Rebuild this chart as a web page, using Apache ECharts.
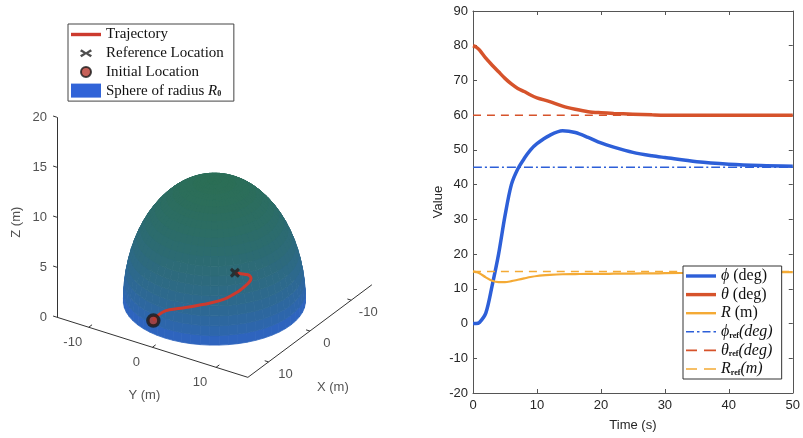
<!DOCTYPE html>
<html>
<head>
<meta charset="utf-8">
<script src="https://cdn.jsdelivr.net/npm/echarts@6/dist/echarts.min.js"></script>
<style>
  html, body { margin: 0; padding: 0; background: #fff; }
  #main { width: 803px; height: 438px; }
</style>
</head>
<body>
<div id="main"></div>
<script>
// time history of the spherical coordinates
var time   = [0, 0.5, 1, 2, 3, 4, 5, 6, 7, 8, 9, 10, 12, 14, 16, 18, 20, 22, 25, 28, 30, 35, 40, 45, 50];
var phi    = [0, 0, 0.3, 3, 11, 20, 31, 40, 44.5, 47.5, 50, 51.8, 54.2, 55.5, 55.0, 53.6, 52.0, 50.8, 49.3, 48.3, 47.8, 46.6, 45.9, 45.5, 45.3];
var theta  = [80, 79.6, 78.8, 76.4, 74.4, 72.5, 70.6, 69, 67.7, 66.8, 65.8, 65, 63.9, 62.6, 61.7, 61, 60.7, 60.5, 60.3, 60.1, 60, 60, 60, 60, 60];
var radius = [15, 14.8, 14.5, 13.3, 12.3, 11.9, 11.9, 12.2, 12.6, 13.0, 13.4, 13.7, 14.0, 14.2, 14.25, 14.3, 14.3, 14.35, 14.4, 14.45, 14.5, 14.6, 14.7, 14.75, 14.8];
var phiRef = 45, thetaRef = 60, radiusRef = 15;
var sphereR0 = 12;

// 3d axes of the left panel
var xLim3 = [-15, 15], yLim3 = [-15, 15], zLim3 = [0, 20];
var xTicks3 = [-10, 0, 10], yTicks3 = [-10, 0, 10], zTicks3 = [0, 5, 10, 15, 20];

// right panel axes
var timeRange = [0, 50], valueRange = [-20, 90];

var colPhi = '#2d5fd8', colTheta = '#d6532b', colR = '#f4aa35';
var sans = 'Liberation Sans', serif = 'Liberation Serif';

// ---- simple orthographic view (az 123, el 29) -> pixel-like units of the left grid
var AZ = 123 * Math.PI / 180, EL = 29 * Math.PI / 180;
var S_XY = 7.59, S_Z = 10, KZ = S_Z / (S_XY * Math.cos(EL));
function proj(x, y, z) {
  var u = S_XY * (Math.cos(AZ) * x + Math.sin(AZ) * y);
  var v = S_XY * Math.sin(EL) * (-Math.sin(AZ) * x + Math.cos(AZ) * y) + S_Z * z;
  return [u, v];
}
function depth(x, y, z) {
  return Math.cos(EL) * (Math.sin(AZ) * x - Math.cos(AZ) * y) + Math.sin(EL) * KZ * z;
}
function sph(p, t, r) {
  var a = p * Math.PI / 180, b = t * Math.PI / 180;
  return [r * Math.sin(b) * Math.cos(a), r * Math.sin(b) * Math.sin(a), r * Math.cos(b)];
}

// hemisphere mesh, coloured by height, painted back to front
var sphereQuads = [];
var nLon = 60, nLat = 20;
var cLow = [46, 98, 216], cHigh = [44, 110, 86];
for (var i = 0; i < nLat; i++) {
  for (var j = 0; j < nLon; j++) {
    var t0 = 90 * i / nLat, t1 = 90 * (i + 1) / nLat;
    var p0 = 360 * j / nLon, p1 = 360 * (j + 1) / nLon;
    var c3 = [sph(p0, t0, sphereR0), sph(p1, t0, sphereR0), sph(p1, t1, sphereR0), sph(p0, t1, sphereR0)];
    var zc = 0, dc = 0;
    c3.forEach(function (c) { zc += c[2] / 4; dc += depth(c[0], c[1], c[2]) / 4; });
    var f = Math.pow(zc / sphereR0, 0.5);
    var col = 'rgb(' + cLow.map(function (c, k) { return Math.round(c + (cHigh[k] - c) * f); }).join(',') + ')';
    sphereQuads.push({ pts: c3.map(function (c) { return proj(c[0], c[1], c[2]); }), color: col, d: dc });
  }
}
sphereQuads.sort(function (a, b) { return a.d - b.d; });

var trajectory = time.map(function (t, k) {
  var c = sph(phi[k], theta[k], radius[k]);
  return proj(c[0], c[1], c[2]);
});
var c0 = sph(phi[0], theta[0], radius[0]);
var cRef = sph(phiRef, thetaRef, radiusRef);

// axis lines of the 3d box
function seg3(a, b) { return [proj(a[0], a[1], a[2]), proj(b[0], b[1], b[2])]; }
var axisSegs = [
  seg3([xLim3[1], yLim3[0], zLim3[0]], [xLim3[1], yLim3[0], zLim3[1]]),
  seg3([xLim3[1], yLim3[0], zLim3[0]], [xLim3[1], yLim3[1], zLim3[0]]),
  seg3([xLim3[1], yLim3[1], zLim3[0]], [xLim3[0], yLim3[1], zLim3[0]])
];
var tickSegs = [];
zTicks3.forEach(function (z) { tickSegs.push(seg3([xLim3[1], yLim3[0], z], [xLim3[1], yLim3[0] - 0.6, z])); });
yTicks3.forEach(function (y) { tickSegs.push(seg3([xLim3[1], y, 0], [xLim3[1] - 0.8, y, 0])); });
xTicks3.forEach(function (x) { tickSegs.push(seg3([x, yLim3[1], 0], [x, yLim3[1] - 0.6, 0])); });

var labels3 = [];
zTicks3.forEach(function (z) { labels3.push({ value: proj(xLim3[1], yLim3[0], z), text: String(z), off: [-10, 0], align: 'right' }); });
yTicks3.forEach(function (y) { labels3.push({ value: proj(xLim3[1], y, 0), text: String(y), off: [-16, 15], align: 'center' }); });
xTicks3.forEach(function (x) { labels3.push({ value: proj(x, yLim3[1], 0), text: String(x), off: [17, 12], align: 'center' }); });
labels3.push({ value: proj(xLim3[1], 0, 0), text: 'Y (m)', off: [-8, 48], align: 'center' });
labels3.push({ value: proj(0, yLim3[1], 0), text: 'X (m)', off: [23, 56], align: 'center' });
// rotated label: offset is applied in the rotated frame
labels3.push({ value: proj(xLim3[1], yLim3[0], 10), text: 'Z (m)', off: [-5, -40], align: 'center', rotate: 90 });

// origin of the left grid in page pixels
var OX = 214.4, OY = 301;

// legend icons (30 x 13 box kept by the leading moves)
var BOX = 'path://M0,0M30,13';
var iconSolid = BOX + 'M0,4.8h30v3.4h-30z';
var iconThin = BOX + 'M0,5.3h30v2.4h-30z';
var iconDashDot = BOX + 'M0,5.7h8v1.6h-8zM11,5.7h2.5v1.6h-2.5zM16.5,5.7h8v1.6h-8zM27.5,5.7h2.5v1.6h-2.5z';
var iconDash = BOX + 'M0,5.7h11v1.6h-11zM18,5.7h12v1.6h-12z';
var iconCross = BOX + 'M10.5,2.5l4.5,3l4.5,-3l1.5,2l-3.6,2l3.6,2l-1.5,2l-4.5,-3l-4.5,3l-1.5,-2l3.6,-2l-3.6,-2z';
var iconRing = BOX + 'M15,1.5a5,5 0 1,0 0.01,0z';

var chart = echarts.init(document.getElementById('main'), null, { renderer: 'canvas' });

function refLine(v) { return [[timeRange[0], v], [timeRange[1], v]]; }
function series2(name, data, color, width, type) {
  return {
    name: name, type: 'line', xAxisIndex: 1, yAxisIndex: 1, data: data,
    showSymbol: false, symbol: 'none', smooth: 0.3,
    lineStyle: { color: color, width: width, type: type || 'solid' },
    itemStyle: { color: color }, z: 3
  };
}

var legendNames = {
  phi: '{g|ϕ} (deg)', theta: '{g|θ} (deg)', R: '{g|R} (m)',
  phiRef: '{g|ϕ}{s|ref}{g|(deg)}', thetaRef: '{g|θ}{s|ref}{g|(deg)}', RRef: '{g|R}{s|ref}{g|(m)}',
  'Sphere of radius R0': 'Sphere of radius {g|R}{s|0}'
};
function rich(size) {
  return {
    g: { fontFamily: serif, fontStyle: 'italic', fontSize: size, lineHeight: size, color: '#111' },
    s: { fontFamily: serif, fontWeight: 'bold', fontSize: 8, lineHeight: 8, color: '#111', verticalAlign: 'bottom' }
  };
}
var axisCol = '#555';

var option = {
  animation: false,
  backgroundColor: '#fff',
  grid: [
    { left: 0, top: 0, width: 420, height: 438, show: false },
    { left: 473, right: 8, top: 11, bottom: 45, show: false }
  ],
  xAxis: [
    { gridIndex: 0, type: 'value', min: -OX, max: 420 - OX, show: false },
    { gridIndex: 1, type: 'value', min: timeRange[0], max: timeRange[1], interval: 10,
      name: 'Time (s)', nameLocation: 'middle', nameGap: 26,
      nameTextStyle: { fontFamily: sans, fontSize: 13, color: '#262626' },
      axisLine: { onZero: false, lineStyle: { color: axisCol, width: 1 } },
      axisTick: { inside: true, length: 4, lineStyle: { color: axisCol } },
      axisLabel: { fontFamily: sans, fontSize: 13, color: '#262626', margin: 6 },
      splitLine: { show: false } },
    { gridIndex: 1, type: 'value', position: 'top', min: timeRange[0], max: timeRange[1], interval: 10,
      axisLine: { onZero: false, lineStyle: { color: axisCol, width: 1 } },
      axisTick: { inside: true, length: 4, lineStyle: { color: axisCol } },
      axisLabel: { show: false }, splitLine: { show: false } }
  ],
  yAxis: [
    { gridIndex: 0, type: 'value', min: -(438 - OY), max: OY, show: false },
    { gridIndex: 1, type: 'value', min: valueRange[0], max: valueRange[1], interval: 10,
      name: 'Value', nameLocation: 'middle', nameGap: 28, nameRotate: 90,
      nameTextStyle: { fontFamily: sans, fontSize: 13, color: '#262626' },
      axisLine: { show: true, onZero: false, lineStyle: { color: axisCol, width: 1 } },
      axisTick: { show: true, inside: true, length: 4, lineStyle: { color: axisCol } },
      axisLabel: { fontFamily: sans, fontSize: 13, color: '#262626', margin: 5 },
      splitLine: { show: false } },
    { gridIndex: 1, type: 'value', position: 'right', min: valueRange[0], max: valueRange[1], interval: 10,
      axisLine: { show: true, onZero: false, lineStyle: { color: axisCol, width: 1 } },
      axisTick: { show: true, inside: true, length: 4, lineStyle: { color: axisCol } },
      axisLabel: { show: false }, splitLine: { show: false } }
  ],
  legend: [
    {
      orient: 'vertical', left: 68, top: 24,
      padding: [3, 10, 3, 2], itemGap: 3.7, itemWidth: 30, itemHeight: 14,
      borderColor: '#444', borderWidth: 1, backgroundColor: '#fff',
      textStyle: { fontFamily: serif, fontSize: 15, lineHeight: 15, color: '#111', rich: rich(15) },
      formatter: function (n) { return legendNames[n] || n; },
      data: [
        { name: 'Trajectory', icon: iconSolid },
        { name: 'Reference Location', icon: iconCross },
        { name: 'Initial Location', icon: iconRing },
        { name: 'Sphere of radius R0', icon: 'rect' }
      ]
    },
    {
      orient: 'vertical', left: 683, top: 266,
      padding: [2, 9, 2, 3], itemGap: 2.6, itemWidth: 30, itemHeight: 14,
      borderColor: '#333', borderWidth: 1, backgroundColor: '#fff',
      textStyle: { fontFamily: serif, fontSize: 16, lineHeight: 16, color: '#111', rich: rich(16) },
      formatter: function (n) { return legendNames[n] || n; },
      data: [
        { name: 'phi', icon: iconSolid }, { name: 'theta', icon: iconSolid }, { name: 'R', icon: iconThin },
        { name: 'phiRef', icon: iconDashDot }, { name: 'thetaRef', icon: iconDash }, { name: 'RRef', icon: iconDash }
      ]
    }
  ],
  series: [
    // ---- left panel
    { type: 'lines', coordinateSystem: 'cartesian2d', xAxisIndex: 0, yAxisIndex: 0, silent: true,
      data: axisSegs.map(function (s) { return { coords: s }; }),
      lineStyle: { color: '#333', width: 1, opacity: 1 }, z: 1 },
    { type: 'lines', coordinateSystem: 'cartesian2d', xAxisIndex: 0, yAxisIndex: 0, silent: true,
      data: tickSegs.map(function (s) { return { coords: s }; }),
      lineStyle: { color: '#333', width: 1, opacity: 1 }, z: 1 },
    { name: 'Sphere of radius R0', type: 'custom', xAxisIndex: 0, yAxisIndex: 0, clip: false,
      itemStyle: { color: '#3164d8' },
      data: sphereQuads.map(function (q) { return q.pts[0]; }),
      renderItem: function (params, api) {
        var q = sphereQuads[params.dataIndex];
        return { type: 'polygon', shape: { points: q.pts.map(function (p) { return api.coord(p); }) },
                 style: { fill: q.color, stroke: q.color, lineWidth: 0.8 } };
      }, z: 2 },
    { name: 'Trajectory', type: 'line', xAxisIndex: 0, yAxisIndex: 0, data: trajectory,
      smooth: 0.4, showSymbol: false, symbol: 'none',
      lineStyle: { color: '#cc3a2e', width: 3 }, itemStyle: { color: '#cc3a2e' }, z: 4 },
    { name: 'Reference Location', type: 'scatter', xAxisIndex: 0, yAxisIndex: 0,
      data: [proj(cRef[0], cRef[1], cRef[2])],
      symbol: 'path://M2,0L5,2.5L8,0L10,2.2L7.5,5L10,7.8L8,10L5,7.5L2,10L0,7.8L2.5,5L0,2.2Z', symbolSize: 10,
      itemStyle: { color: '#222' }, z: 5 },
    { name: 'Initial Location', type: 'scatter', xAxisIndex: 0, yAxisIndex: 0,
      data: [proj(c0[0], c0[1], c0[2])], symbol: 'circle', symbolSize: 11,
      itemStyle: { color: '#b83a30', borderColor: '#1a1a1a', borderWidth: 3.5 }, z: 5 },
    { type: 'scatter', xAxisIndex: 0, yAxisIndex: 0, symbolSize: 0, silent: true, z: 6,
      data: labels3.map(function (l) {
        return { value: l.value, label: { show: true, formatter: l.text, offset: l.off, align: l.align,
                 verticalAlign: 'middle', rotate: l.rotate || 0, position: 'inside',
                 fontFamily: sans, fontSize: 13, color: '#262626' } };
      }) },
    // ---- right panel
    series2('phi', time.map(function (t, k) { return [t, phi[k]]; }), colPhi, 3.5),
    series2('theta', time.map(function (t, k) { return [t, theta[k]]; }), colTheta, 3.5),
    series2('R', time.map(function (t, k) { return [t, radius[k]]; }), colR, 2.2),
    series2('phiRef', refLine(phiRef), colPhi, 1.6, [9, 3, 2, 3]),
    series2('thetaRef', refLine(thetaRef), colTheta, 1.6, [8, 6]),
    series2('RRef', refLine(radiusRef), colR, 1.6, [8, 6])
  ]
};
chart.setOption(option);
</script>
</body>
</html>
